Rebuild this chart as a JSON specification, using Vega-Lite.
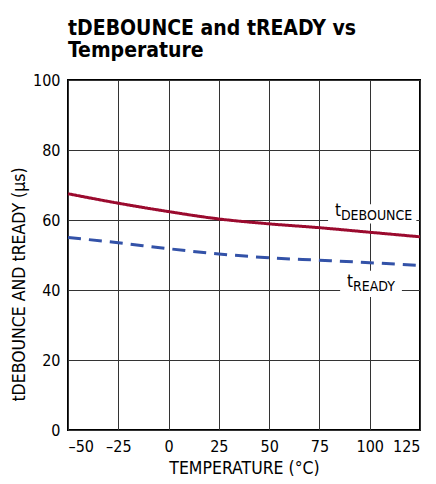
{
  "$schema": "https://vega.github.io/schema/vega-lite/v6.json",
  "width": 352,
  "height": 350,
  "autosize": "none",
  "padding": {"left": 68, "top": 80, "right": 16, "bottom": 54},
  "config": {
    "font": "'DejaVu Sans Condensed', 'Liberation Sans Narrow', Roboto, sans-serif",
    "view": {"stroke": "black", "strokeWidth": 2},
    "axis": {
      "domain": false,
      "ticks": false,
      "grid": true,
      "gridColor": "#333333",
      "gridWidth": 1,
      "gridOpacity": 1,
      "labelFont": "'DejaVu Sans Condensed', 'Liberation Sans Narrow', Roboto, sans-serif",
      "labelFontSize": 16,
      "labelColor": "black",
      "titleFont": "'DejaVu Sans Condensed', 'Liberation Sans Narrow', Roboto, sans-serif",
      "titleFontSize": 17.5,
      "titleFontWeight": "normal",
      "titleColor": "black"
    }
  },
  "title": {
    "text": ["tDEBOUNCE and tREADY vs", "Temperature"],
    "anchor": "start",
    "frame": "group",
    "font": "'DejaVu Sans Condensed', 'Liberation Sans Narrow', Roboto, sans-serif",
    "fontSize": 21,
    "fontWeight": "bold",
    "color": "black",
    "lineHeight": 22,
    "offset": 11
  },
  "datasets": {
    "curves": [
      {"temp": -50, "value": 67.5, "series": "tDEBOUNCE"},
      {"temp": -25, "value": 64.8, "series": "tDEBOUNCE"},
      {"temp": 0, "value": 62.4, "series": "tDEBOUNCE"},
      {"temp": 25, "value": 60.3, "series": "tDEBOUNCE"},
      {"temp": 50, "value": 58.9, "series": "tDEBOUNCE"},
      {"temp": 75, "value": 57.8, "series": "tDEBOUNCE"},
      {"temp": 100, "value": 56.5, "series": "tDEBOUNCE"},
      {"temp": 125, "value": 55.2, "series": "tDEBOUNCE"},
      {"temp": -50, "value": 55.0, "series": "tREADY"},
      {"temp": -25, "value": 53.5, "series": "tREADY"},
      {"temp": 0, "value": 51.8, "series": "tREADY"},
      {"temp": 25, "value": 50.3, "series": "tREADY"},
      {"temp": 50, "value": 49.2, "series": "tREADY"},
      {"temp": 75, "value": 48.5, "series": "tREADY"},
      {"temp": 100, "value": 47.8, "series": "tREADY"},
      {"temp": 125, "value": 47.0, "series": "tREADY"}
    ],
    "labels": [
      {"x": 82.7, "y": 61.1, "x0": 79.3, "x1": 123.2, "y0": 59.0, "y1": 64.5, "main": "t", "sub": "DEBOUNCE"},
      {"x": 88.7, "y": 40.8, "x0": 85.3, "x1": 116.0, "y0": 38.0, "y1": 45.5, "main": "t", "sub": "READY"}
    ]
  },
  "layer": [
    {
      "data": {"name": "curves"},
      "mark": {"type": "line", "strokeWidth": 3, "interpolate": "monotone"},
      "encoding": {
        "x": {
          "field": "temp", "type": "quantitative",
          "scale": {"domain": [-50, 125], "nice": false},
          "axis": {"values": [-50, -25, 0, 25, 50, 75, 100, 125], "title": "TEMPERATURE (°C)", "labelPadding": 8, "titlePadding": 5,
                   "labelExpr": "replace(datum.label, '−', '–')"}
        },
        "y": {
          "field": "value", "type": "quantitative",
          "scale": {"domain": [0, 100], "nice": false},
          "axis": {"values": [0, 20, 40, 60, 80, 100], "title": "tDEBOUNCE AND tREADY (µs)", "labelPadding": 8, "titleX": -40, "titleY": 204}
        },
        "color": {
          "field": "series", "type": "nominal",
          "scale": {"domain": ["tDEBOUNCE", "tREADY"], "range": ["#9B0A2E", "#3352A8"]},
          "legend": null
        },
        "strokeDash": {
          "field": "series", "type": "nominal",
          "scale": {"domain": ["tDEBOUNCE", "tREADY"], "range": [[1, 0], [13, 8]]},
          "legend": null
        }
      }
    },
    {
      "data": {"name": "labels"},
      "mark": {"type": "rect", "color": "white"},
      "encoding": {
        "x": {"field": "x0", "type": "quantitative"},
        "x2": {"field": "x1"},
        "y": {"field": "y0", "type": "quantitative"},
        "y2": {"field": "y1"}
      }
    },
    {
      "data": {"name": "labels"},
      "mark": {"type": "text", "align": "left", "baseline": "alphabetic", "fontSize": 17, "color": "black"},
      "encoding": {
        "x": {"field": "x", "type": "quantitative"},
        "y": {"field": "y", "type": "quantitative"},
        "text": {"field": "main"}
      }
    },
    {
      "data": {"name": "labels"},
      "mark": {"type": "text", "align": "left", "baseline": "alphabetic", "fontSize": 14, "dx": 6, "dy": 4, "color": "black"},
      "encoding": {
        "x": {"field": "x", "type": "quantitative"},
        "y": {"field": "y", "type": "quantitative"},
        "text": {"field": "sub"}
      }
    }
  ]
}
